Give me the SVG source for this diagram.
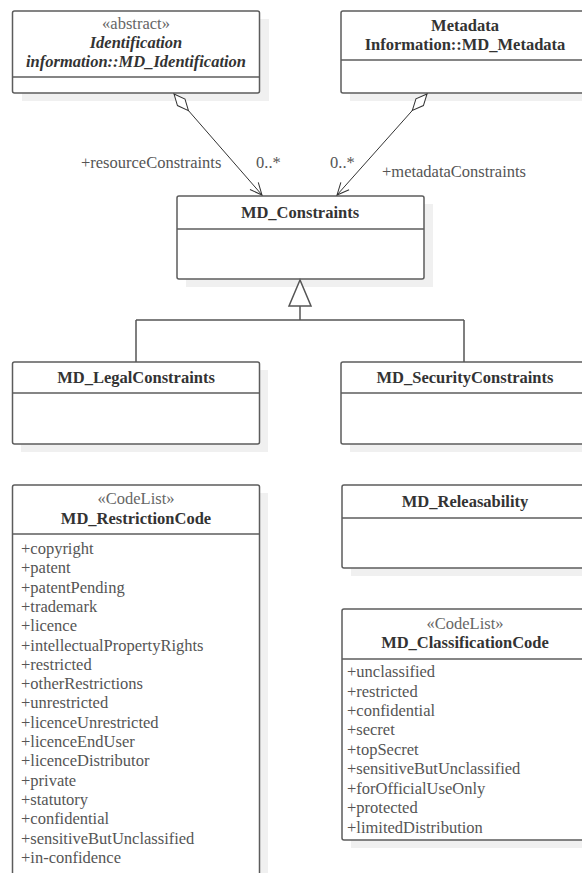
<svg xmlns="http://www.w3.org/2000/svg" width="582" height="873" viewBox="0 0 582 873">
<defs>
<style>
.shadow{fill:#f0f0f0;stroke:none}
.box{fill:#fff;stroke:#5c5c5c;stroke-width:1.5}
.div{stroke:#5c5c5c;stroke-width:1.5}
text{font-family:"Liberation Serif","Times New Roman",serif;font-size:16.5px}
.name{font-weight:bold;fill:#333;text-anchor:middle}
.iname{font-weight:bold;font-style:italic;fill:#333;text-anchor:middle}
.stereo{fill:#666;text-anchor:middle}
.item{fill:#555}
.lbl{fill:#555}
.conn{fill:none;stroke:#333;stroke-width:1}
.gen{fill:none;stroke:#555;stroke-width:1.5}
</style>
<marker id="diamond" markerUnits="userSpaceOnUse" markerWidth="30" markerHeight="14" refX="0" refY="7" orient="auto" viewBox="0 0 30 14" overflow="visible">
<path d="M0,7 L11,2 L22,7 L11,12 Z" fill="#fff" stroke="#333" stroke-width="1"/>
</marker>
<marker id="arrow" markerUnits="userSpaceOnUse" markerWidth="16" markerHeight="14" refX="14" refY="7" orient="auto" viewBox="0 0 16 14" overflow="visible">
<path d="M2,1.5 L14,7 L2,12.5" fill="none" stroke="#333" stroke-width="1"/>
</marker>
</defs>
<rect width="582" height="873" fill="#fff"/>

<g id="MD_Identification">
<rect class="shadow" x="22" y="19" width="247" height="82"/>
<rect class="box" x="12.5" y="11" width="247" height="82" rx="2"/>
<line class="div" x1="12.5" y1="77" x2="259.5" y2="77"/>
<text class="stereo" x="136" y="29">«abstract»</text>
<text class="iname" x="136" y="47.5">Identification</text>
<text class="iname" x="136" y="66.5">information::MD_Identification</text>
</g>

<g id="MD_Metadata">
<rect class="shadow" x="350" y="19" width="250" height="82"/>
<rect class="box" x="341" y="11" width="250" height="82" rx="2"/>
<line class="div" x1="341" y1="60" x2="591" y2="60"/>
<text class="name" x="465" y="30.5">Metadata</text>
<text class="name" x="465" y="49.5">Information::MD_Metadata</text>
</g>

<g id="MD_Constraints">
<rect class="shadow" x="186" y="204" width="247" height="83"/>
<rect class="box" x="177" y="196" width="247" height="83" rx="2"/>
<line class="div" x1="177" y1="229" x2="424" y2="229"/>
<text class="name" x="300" y="218">MD_Constraints</text>
</g>

<g id="MD_LegalConstraints">
<rect class="shadow" x="21" y="370" width="247" height="82"/>
<rect class="box" x="12.5" y="362" width="247" height="82" rx="2"/>
<line class="div" x1="12.5" y1="393" x2="259.5" y2="393"/>
<text class="name" x="136" y="383">MD_LegalConstraints</text>
</g>

<g id="MD_SecurityConstraints">
<rect class="shadow" x="350" y="370" width="250" height="82"/>
<rect class="box" x="341" y="362" width="250" height="82" rx="2"/>
<line class="div" x1="341" y1="393" x2="591" y2="393"/>
<text class="name" x="465" y="383">MD_SecurityConstraints</text>
</g>

<g id="MD_RestrictionCode">
<rect class="shadow" x="21" y="493" width="247" height="400"/>
<rect class="box" x="12.5" y="485" width="247" height="400" rx="2"/>
<line class="div" x1="12.5" y1="534" x2="259.5" y2="534"/>
<text class="stereo" x="136" y="504">«CodeList»</text>
<text class="name" x="136" y="524">MD_RestrictionCode</text>
<text class="item" x="21" y="554">+copyright</text>
<text class="item" x="21" y="573.3">+patent</text>
<text class="item" x="21" y="592.6">+patentPending</text>
<text class="item" x="21" y="611.9">+trademark</text>
<text class="item" x="21" y="631.2">+licence</text>
<text class="item" x="21" y="650.5">+intellectualPropertyRights</text>
<text class="item" x="21" y="669.8">+restricted</text>
<text class="item" x="21" y="689.1">+otherRestrictions</text>
<text class="item" x="21" y="708.4">+unrestricted</text>
<text class="item" x="21" y="727.7">+licenceUnrestricted</text>
<text class="item" x="21" y="747">+licenceEndUser</text>
<text class="item" x="21" y="766.3">+licenceDistributor</text>
<text class="item" x="21" y="785.6">+private</text>
<text class="item" x="21" y="804.9">+statutory</text>
<text class="item" x="21" y="824.2">+confidential</text>
<text class="item" x="21" y="843.5">+sensitiveButUnclassified</text>
<text class="item" x="21" y="862.8">+in-confidence</text>
</g>

<g id="MD_Releasability">
<rect class="shadow" x="351" y="493" width="250" height="83"/>
<rect class="box" x="342" y="485" width="250" height="83" rx="2"/>
<line class="div" x1="342" y1="518" x2="592" y2="518"/>
<text class="name" x="465" y="507">MD_Releasability</text>
</g>

<g id="MD_ClassificationCode">
<rect class="shadow" x="351" y="617" width="250" height="231"/>
<rect class="box" x="342" y="609" width="250" height="231" rx="2"/>
<line class="div" x1="342" y1="659" x2="592" y2="659"/>
<text class="stereo" x="465" y="629">«CodeList»</text>
<text class="name" x="465" y="648">MD_ClassificationCode</text>
<text class="item" x="347" y="677">+unclassified</text>
<text class="item" x="347" y="696.5">+restricted</text>
<text class="item" x="347" y="716">+confidential</text>
<text class="item" x="347" y="735.4">+secret</text>
<text class="item" x="347" y="754.8">+topSecret</text>
<text class="item" x="347" y="774.2">+sensitiveButUnclassified</text>
<text class="item" x="347" y="793.6">+forOfficialUseOnly</text>
<text class="item" x="347" y="813">+protected</text>
<text class="item" x="347" y="832.6">+limitedDistribution</text>
</g>

<g id="connectors">
<path class="conn" d="M174,94 L262,195" marker-start="url(#diamond)" marker-end="url(#arrow)"/>
<path class="conn" d="M427,94 L337,195" marker-start="url(#diamond)" marker-end="url(#arrow)"/>
<text class="lbl" x="81" y="168">+resourceConstraints</text>
<text class="lbl" x="256" y="168">0..*</text>
<text class="lbl" x="330" y="168">0..*</text>
<text class="lbl" x="382" y="177">+metadataConstraints</text>
<path class="gen" d="M300,306 L300,320 M136,320 L464,320 M136,320 L136,362 M464,320 L464,362"/>
<path d="M300,280 L289,306 L311,306 Z" fill="#fff" stroke="#555" stroke-width="1.5"/>
</g>
</svg>
